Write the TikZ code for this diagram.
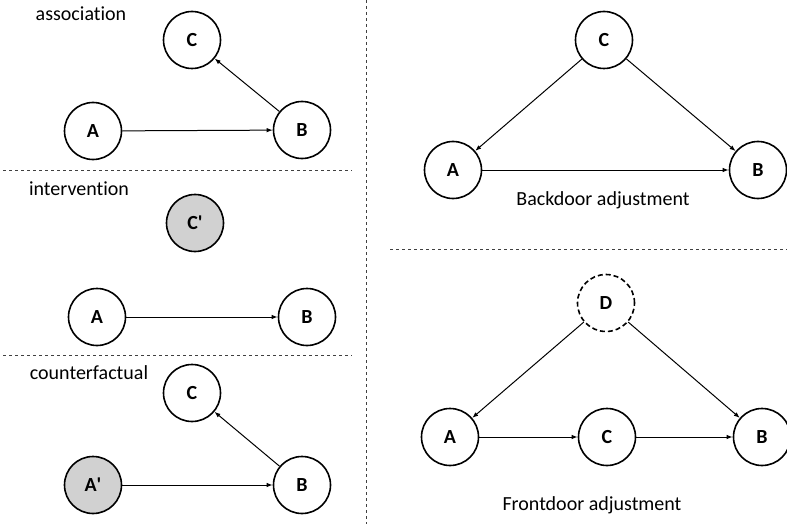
\documentclass[tikz,border=0pt]{standalone}
\usepackage{fontspec}
\setmainfont{Carlito}[Ligatures={NoCommon,NoContextual}]
\usetikzlibrary{arrows.meta,positioning}

\begin{document}
\begin{tikzpicture}[x=1pt,y=-1pt,
  var/.style={circle,draw,line width=1.6pt,minimum size=57pt,inner sep=0pt,font=\fontsize{20}{22}\selectfont\bfseries},
  hidden/.style={var,dashed,dash pattern=on 5pt off 3pt},
  fixed/.style={var,fill=black!18},
  edge/.style={-{Latex[length=6pt,width=4.5pt]},line width=1pt},
  sep/.style={dashed,line width=0.7pt,black!75},
  caption/.style={font=\fontsize{20}{22}\selectfont}]
\useasboundingbox (0,0) rectangle (787,524);

% separators
\draw[sep] (366,0) -- (366,524);
\draw[sep] (3,170) -- (352,170);
\draw[sep] (3,355) -- (352,355);
\draw[sep] (390,249) -- (787,249);

% association
\node[caption] (t1) at (81,14) {association};
\node[var] (c1) at (192,40) {C};
\node[var] (a1) at (93,131) {A};
\node[var] (b1) at (302,130) {B};
\draw[edge] (a1) -- (b1);
\draw[edge] (b1) -- (c1);

% intervention
\node[caption] (t2) at (79,189) {intervention};
\node[fixed] (c2) at (195,223) {C\textquotesingle};
\node[var] (a2) at (97,317) {A};
\node[var] (b2) at (307,317) {B};
\draw[edge] (a2) -- (b2);

% counterfactual
\node[caption] (t3) at (89,373) {counterfactual};
\node[var] (c3) at (192,393) {C};
\node[fixed] (a3) at (93,485) {A\textquotesingle};
\node[var] (b3) at (302,485) {B};
\draw[edge] (a3) -- (b3);
\draw[edge] (b3) -- (c3);

% backdoor
\node[var] (c4) at (604,40) {C};
\node[var] (a4) at (453,170) {A};
\node[var] (b4) at (758,170) {B};
\node[caption] (t4) at (603,200) {Backdoor adjustment};
\draw[edge] (c4) -- (a4);
\draw[edge] (c4) -- (b4);
\draw[edge] (a4) -- (b4);

% frontdoor
\node[hidden] (d5) at (606,303) {D};
\node[var] (a5) at (450,437) {A};
\node[var] (c5) at (607,437) {C};
\node[var] (b5) at (762,437) {B};
\node[caption] (t5) at (592,505) {Frontdoor adjustment};
\draw[edge] (d5) -- (a5);
\draw[edge] (d5) -- (b5);
\draw[edge] (a5) -- (c5);
\draw[edge] (c5) -- (b5);
\end{tikzpicture}
\end{document}
